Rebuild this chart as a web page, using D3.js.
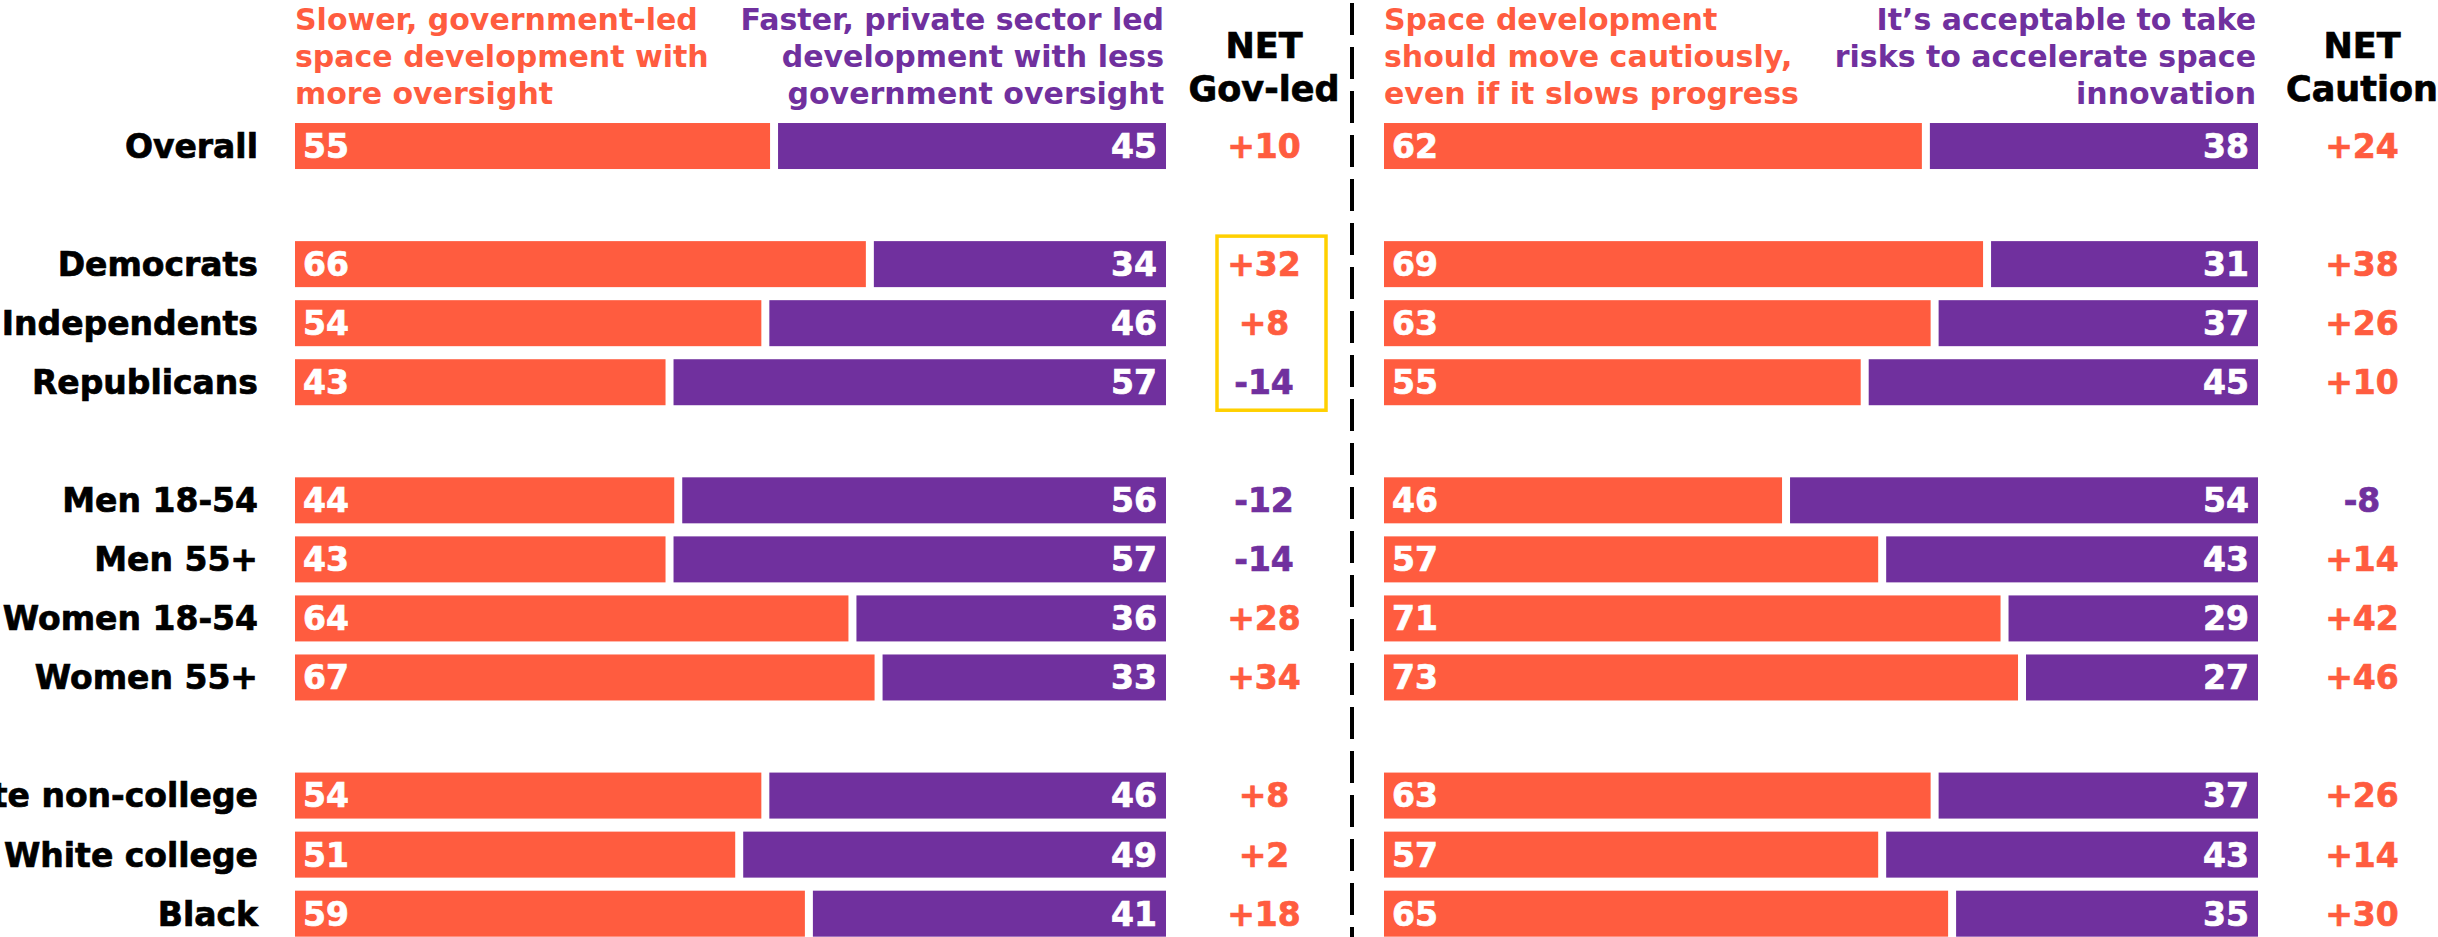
<!DOCTYPE html>
<html>
<head>
<meta charset="utf-8">
<script src="https://cdn.jsdelivr.net/npm/d3@7"></script>
<style>
  html, body { margin: 0; padding: 0; background: #fff; overflow: hidden; }
  svg text { font-family: "DejaVu Sans", sans-serif; font-weight: bold; stroke-width: 0.7px; }
</style>
</head>
<body>
<div id="chart"></div>
<script>
// rows, with empty slots between the groups
const categories = ["Overall", "Democrats", "Independents", "Republicans", "Men 18-54", "Men 55+",
  "Women 18-54", "Women 55+", "White non-college", "White college", "Black"];
const slots = ["Overall", "gap1", "Democrats", "Independents", "Republicans", "gap2",
  "Men 18-54", "Men 55+", "Women 18-54", "Women 55+", "gap3",
  "White non-college", "White college", "Black"];

// left question
const govLed = [55, 66, 54, 43, 44, 43, 64, 67, 54, 51, 59];
const privateLed = [45, 34, 46, 57, 56, 57, 36, 33, 46, 49, 41];
const netGovLed = [10, 32, 8, -14, -12, -14, 28, 34, 8, 2, 18];

// right question
const cautious = [62, 69, 63, 55, 46, 57, 71, 73, 63, 57, 65];
const takeRisks = [38, 31, 37, 45, 54, 43, 29, 27, 37, 43, 35];
const netCaution = [24, 38, 26, 10, -8, 14, 42, 46, 26, 14, 30];

const leftHeadA = ["Slower, government-led", "space development with", "more oversight"];
const leftHeadB = ["Faster, private sector led", "development with less", "government oversight"];
const rightHeadA = ["Space development", "should move cautiously,", "even if it slows progress"];
const rightHeadB = ["It\u2019s acceptable to take", "risks to accelerate space", "innovation"];

const ORANGE = "#FF5C3F", PURPLE = "#70309E", GOLD = "#FFD000";
const width = 2438, height = 937;

const svg = d3.select("#chart").append("svg")
  .attr("width", width)
  .attr("height", height);

const y = d3.scaleBand()
  .domain(slots)
  .range([116.5, 943.2])
  .paddingInner(0.221)
  .paddingOuter(0.1105);

const xLeft = d3.scaleLinear().domain([0, 100]).range([295, 1166]);
const xRight = d3.scaleLinear().domain([0, 100]).range([1384, 2258]);

const gap = 4;
const headBase = [30, 67, 104];

// row labels
svg.append("g").selectAll("text")
  .data(categories)
  .join("text")
  .attr("x", 258)
  .attr("y", d => y(d) + y.bandwidth() / 2)
  .attr("dy", "0.36em")
  .attr("text-anchor", "end")
  .attr("font-size", 33)
  .attr("fill", "#000")
  .attr("stroke", "#000")
  .text(d => d);

function panel(x, a, b, net, headA, headB, netLabel, netX) {
  const g = svg.append("g");
  const rows = categories.map((c, i) => ({ c, a: a[i], b: b[i], net: net[i] }));

  g.selectAll(".ra").data(rows).join("rect")
    .attr("x", x(0))
    .attr("y", d => y(d.c))
    .attr("width", d => x(d.a) - x(0) - gap)
    .attr("height", y.bandwidth())
    .attr("fill", ORANGE);

  g.selectAll(".rb").data(rows).join("rect")
    .attr("x", d => x(d.a) + gap)
    .attr("y", d => y(d.c))
    .attr("width", d => x(100) - x(d.a) - gap)
    .attr("height", y.bandwidth())
    .attr("fill", PURPLE);

  g.selectAll(".ta").data(rows).join("text")
    .attr("x", x(0) + 8)
    .attr("y", d => y(d.c) + y.bandwidth() / 2)
    .attr("dy", "0.36em")
    .attr("font-size", 33)
    .attr("fill", "#fff")
    .attr("stroke", "#fff")
    .text(d => d.a);

  g.selectAll(".tb").data(rows).join("text")
    .attr("x", x(100) - 9)
    .attr("y", d => y(d.c) + y.bandwidth() / 2)
    .attr("dy", "0.36em")
    .attr("text-anchor", "end")
    .attr("font-size", 33)
    .attr("fill", "#fff")
    .attr("stroke", "#fff")
    .text(d => d.b);

  g.selectAll(".tn").data(rows).join("text")
    .attr("x", netX)
    .attr("y", d => y(d.c) + y.bandwidth() / 2)
    .attr("dy", "0.36em")
    .attr("text-anchor", "middle")
    .attr("font-size", 33)
    .attr("fill", d => d.net < 0 ? PURPLE : ORANGE)
    .attr("stroke", d => d.net < 0 ? PURPLE : ORANGE)
    .text(d => (d.net > 0 ? "+" : "") + d.net);

  // column headers
  g.selectAll(".ha").data(headA).join("text")
    .attr("x", x(0))
    .attr("y", (d, i) => headBase[i])
    .attr("font-size", 30)
    .attr("fill", ORANGE)
    .text(d => d);

  g.selectAll(".hb").data(headB).join("text")
    .attr("x", x(100) - 2)
    .attr("y", (d, i) => headBase[i])
    .attr("text-anchor", "end")
    .attr("font-size", 30)
    .attr("fill", PURPLE)
    .text(d => d);

  g.selectAll(".hn").data(["NET", netLabel]).join("text")
    .attr("x", netX)
    .attr("y", (d, i) => [58, 101][i])
    .attr("text-anchor", "middle")
    .attr("font-size", 35)
    .attr("fill", "#000")
    .attr("stroke", "#000")
    .text(d => d);
}

panel(xLeft, govLed, privateLed, netGovLed, leftHeadA, leftHeadB, "Gov-led", 1264);
panel(xRight, cautious, takeRisks, netCaution, rightHeadA, rightHeadB, "Caution", 2362);

// highlight box around the party NETs
svg.append("rect")
  .attr("x", 1217)
  .attr("y", y("Democrats") - 5)
  .attr("width", 109)
  .attr("height", y("Republicans") + y.bandwidth() + 5 - (y("Democrats") - 5))
  .attr("fill", "none")
  .attr("stroke", GOLD)
  .attr("stroke-width", 3.5);

// divider
svg.append("line")
  .attr("x1", 1352).attr("x2", 1352)
  .attr("y1", 3).attr("y2", height)
  .attr("stroke", "#000")
  .attr("stroke-width", 4)
  .attr("stroke-dasharray", "32,12");
</script>
</body>
</html>
